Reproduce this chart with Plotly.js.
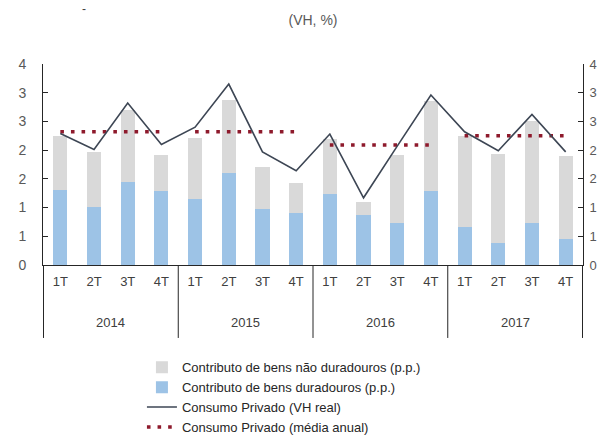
<!DOCTYPE html>
<html>
<head>
<meta charset="utf-8">
<script src="https://cdn.plot.ly/plotly-3.0.1.min.js"></script>
<style>
  html, body { margin: 0; padding: 0; background: #fff; }
  #chart { width: 604px; height: 436px; }
</style>
</head>
<body>
<div id="chart"></div>
<script>
// data
const years = ['2014', '2015', '2016', '2017'];
const quarters = ['1T', '2T', '3T', '4T'];
const duradouros = [1.30, 1.01, 1.45, 1.28, 1.15, 1.60, 0.97, 0.90, 1.24, 0.87, 0.74, 1.28, 0.67, 0.38, 0.74, 0.45];
const naoDuradouros = [0.95, 0.96, 1.25, 0.64, 1.06, 1.27, 0.74, 0.52, 0.96, 0.22, 1.18, 1.57, 1.58, 1.55, 1.76, 1.45];
const consumoVH = [2.29, 2.01, 2.82, 2.10, 2.40, 3.15, 1.97, 1.64, 2.28, 1.17, 2.07, 2.96, 2.32, 1.99, 2.62, 1.97];
const mediaAnual = [2.32, 2.32, 2.09, 2.25];
const yTickVals = [0, 0.5, 1, 1.5, 2, 2.5, 3, 3.5];
const yTickText = ['0', '1', '1', '2', '2', '3', '3', '4'];

// one category per quarter, labelled with the quarter only
const xCat = [], xQ = [];
years.forEach(y => quarters.forEach(q => { xCat.push(y + ' ' + q); xQ.push(q); }));

const traces = [
    {
        x: xCat, y: duradouros, type: 'bar', name: 'Contributo de bens duradouros (p.p.)',
        marker: { color: '#9DC3E6' }, legendrank: 2
    },
    {
        x: xCat, y: naoDuradouros, type: 'bar', name: 'Contributo de bens não duradouros (p.p.)',
        marker: { color: '#D9D9D9' }, legendrank: 1
    },
    {
        x: xCat, y: consumoVH, yaxis: 'y2', type: 'scatter', mode: 'lines', name: 'Consumo Privado (VH real)',
        line: { color: '#3D4654', width: 1.6 }, legendrank: 3
    }
];

// annual average: one dotted segment per year
years.forEach((yr, i) => {
    traces.push({
        x: quarters.map(q => yr + ' ' + q),
        y: quarters.map(() => mediaAnual[i]),
        type: 'scatter', mode: 'lines', name: 'Consumo Privado (média anual)',
        line: { color: '#8E1A2C', width: 3.6, dash: '3.6px,7px' },
        legendgroup: 'media', showlegend: i === 0, legendrank: 4
    });
});

const font = 'Liberation Sans, Arial, sans-serif';
const yTickFont = { family: font, size: 14, color: '#595959' };

// year labels and the dividers between years
const shapes = [];
for (let i = 0; i <= years.length; i++) {
    shapes.push({
        type: 'line', xref: 'x', yref: 'paper',
        x0: i * 4 - 0.5, x1: i * 4 - 0.5, y0: 0, y1: -0.363,
        line: { color: '#262626', width: 1 }
    });
}
const annotations = years.map((yr, i) => ({
    text: yr, xref: 'x', yref: 'paper', x: i * 4 + 1.5, y: -0.284, yanchor: 'middle',
    showarrow: false, font: { family: font, size: 13, color: '#404040' }
}));
annotations.push({ text: '-', xref: 'paper', yref: 'paper', x: (84 - 43) / 540, y: 1 + (64 - 9) / 201,
    xanchor: 'center', yanchor: 'middle',
    showarrow: false, font: { family: font, size: 12, color: '#404040' } });

const layout = {
    width: 604, height: 436,
    margin: { l: 43, r: 21, t: 64, b: 171, autoexpand: false },
    paper_bgcolor: '#fff', plot_bgcolor: '#fff',
    barmode: 'stack', bargap: 0.58,
    font: { family: font, color: '#404040' },
    title: {
        text: '(VH, %)', x: 0.5, xref: 'paper', y: 0.954, yref: 'container', yanchor: 'middle',
        font: { size: 14, color: '#595959' }
    },
    xaxis: {
        type: 'category', tickvals: xCat, ticktext: xQ, automargin: false,
        showline: true, linecolor: '#262626', linewidth: 1,
        ticks: '', showgrid: false, ticklabelstandoff: 4,
        tickfont: { family: font, size: 13, color: '#404040' }
    },
    yaxis: {
        range: [0, 3.5], tickvals: yTickVals, ticktext: yTickText, automargin: false,
        showline: true, linecolor: '#262626', ticks: 'inside', ticklen: 5, tickcolor: '#262626',
        showgrid: false, zeroline: false, ticklabelstandoff: 13, tickfont: yTickFont
    },
    yaxis2: {
        range: [0, 3.5], tickvals: yTickVals, ticktext: yTickText, overlaying: 'y', side: 'right',
        automargin: false,
        showline: true, linecolor: '#262626', ticks: 'inside', ticklen: 5, tickcolor: '#262626',
        showgrid: false, zeroline: false, ticklabelstandoff: 3,
        tickfont: { family: font, size: 13, color: '#595959' }
    },
    showlegend: true,
    legend: {
        xref: 'container', yref: 'container', x: 0.235, y: 0.192, xanchor: 'left', yanchor: 'top',
        traceorder: 'normal', bgcolor: 'rgba(0,0,0,0)',
        font: { family: font, size: 13, color: '#262626' },
        tracegroupgap: 0
    },
    shapes: shapes,
    annotations: annotations
};

Plotly.newPlot('chart', traces, layout, { staticPlot: true });
</script>
</body>
</html>
